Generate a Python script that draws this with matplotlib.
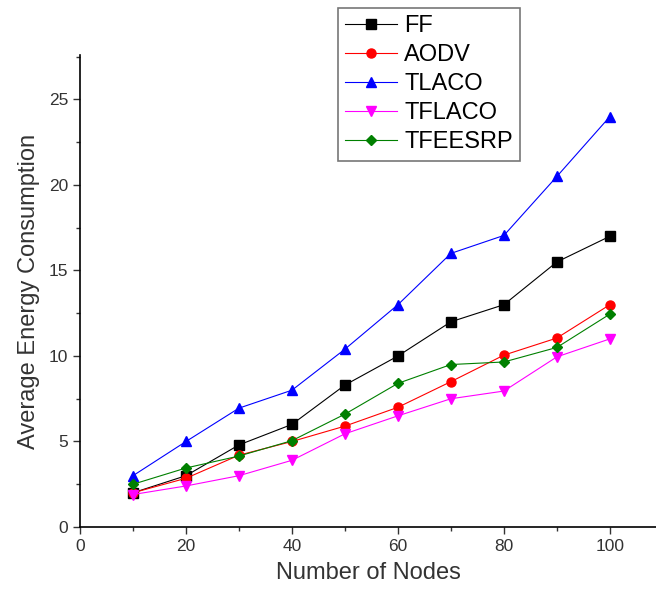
import numpy as np
import matplotlib
matplotlib.use('Agg')
import matplotlib.pyplot as plt
from matplotlib.ticker import MultipleLocator

plt.rcParams['font.family'] = ['Liberation Sans', 'DejaVu Sans']

# data
nodes = [10, 20, 30, 40, 50, 60, 70, 80, 90, 100]
ff = [2.0, 3.0, 4.8, 6.0, 8.3, 10.0, 12.0, 13.0, 15.5, 17.0]
aodv = [2.0, 2.85, 4.2, 5.0, 5.9, 7.0, 8.5, 10.05, 11.05, 13.0]
tlaco = [3.0, 5.0, 6.95, 8.0, 10.4, 13.0, 16.0, 17.05, 20.5, 24.0]
tflaco = [1.9, 2.4, 3.0, 3.9, 5.45, 6.5, 7.5, 7.95, 9.95, 11.0]
tfeesrp = [2.5, 3.45, 4.15, 5.05, 6.6, 8.4, 9.5, 9.65, 10.5, 12.45]

series = [
    ('FF', ff, 'black', 's'),
    ('AODV', aodv, 'red', 'o'),
    ('TLACO', tlaco, 'blue', '^'),
    ('TFLACO', tflaco, 'magenta', 'v'),
    ('TFEESRP', tfeesrp, 'green', 'D'),
]

fig = plt.figure(figsize=(6.56, 6.04), dpi=100)
ax = fig.add_axes([80 / 656, 77 / 604, 576 / 656, 472 / 604])

for name, vals, c, m in series:
    ms = 6.5 if m != 'D' else 5.5
    ax.plot(nodes, vals, color=c, marker=m, markersize=ms, linewidth=0.8,
            markeredgecolor=c, markerfacecolor=c, label=name)

ax.set_xlim(0, 108.7)
ax.set_ylim(0, 27.6)
ax.xaxis.set_major_locator(MultipleLocator(20))
ax.xaxis.set_minor_locator(MultipleLocator(10))
ax.yaxis.set_major_locator(MultipleLocator(5))
ax.yaxis.set_minor_locator(MultipleLocator(2.5))
ax.tick_params(which='both', direction='out', labelsize=12.5, width=1, colors='#333333')
ax.tick_params(which='major', length=5)
ax.tick_params(which='minor', length=3)
ax.spines['top'].set_visible(False)
ax.spines['right'].set_visible(False)
ax.spines['left'].set_linewidth(1.2)
ax.spines['bottom'].set_linewidth(1.2)
ax.set_xlabel('Number of Nodes', fontsize=17, color='#333333', labelpad=6)
ax.set_ylabel('Average Energy Consumption', fontsize=17, color='#333333', labelpad=6)

leg = ax.legend(loc='upper left', bbox_to_anchor=(338 / 656, 1 - 8 / 604),
                bbox_transform=fig.transFigure, borderaxespad=0, fontsize=17,
                fancybox=False, framealpha=1, edgecolor='#777777',
                handlelength=2.2, labelspacing=0.3, borderpad=0.3, handletextpad=0.3)
leg.get_frame().set_linewidth(1.2)

fig.savefig('out.png', dpi=100)
